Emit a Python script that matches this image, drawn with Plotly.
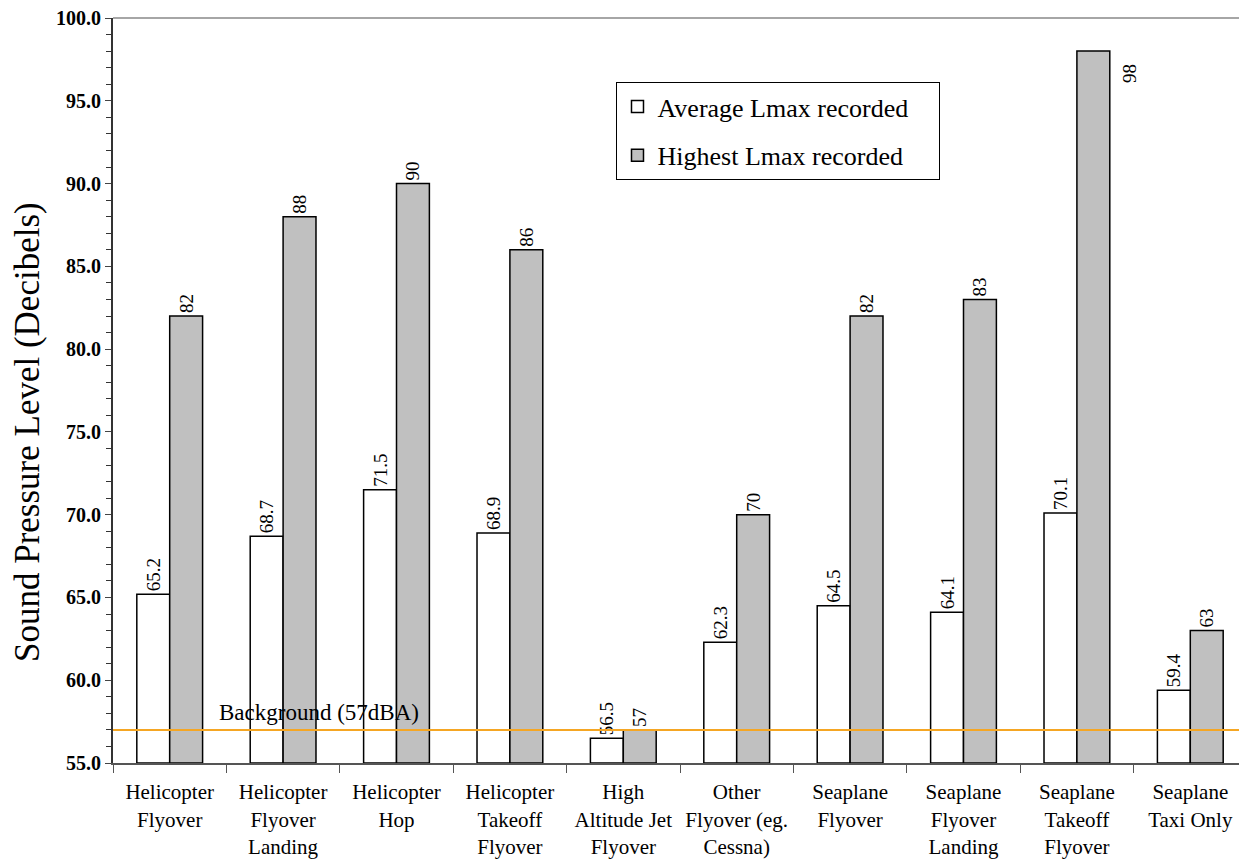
import plotly.graph_objects as go

categories = ["Helicopter<br>Flyover", "Helicopter<br>Flyover<br>Landing", "Helicopter<br>Hop",
              "Helicopter<br>Takeoff<br>Flyover", "High<br>Altitude Jet<br>Flyover",
              "Other<br>Flyover (eg.<br>Cessna)", "Seaplane<br>Flyover", "Seaplane<br>Flyover<br>Landing",
              "Seaplane<br>Takeoff<br>Flyover", "Seaplane<br>Taxi Only"]
avg_lmax = [65.2, 68.7, 71.5, 68.9, 56.5, 62.3, 64.5, 64.1, 70.1, 59.4]
high_lmax = [82, 88, 90, 86, 57, 70, 82, 83, 98, 63]
background = 57

font = "Liberation Serif"
pad = "\u00a0" * 4  # extra room on the right of the legend box

fig = go.Figure()
fig.add_trace(go.Bar(x=categories, y=[v - 55 for v in avg_lmax], base=55, name="Average Lmax recorded" + pad,
                     legendgroup="a",
                     marker=dict(color="white", line=dict(color="black", width=1.5)),
                     text=[f"{v:.1f}" for v in avg_lmax], textposition="outside", textangle=-90,
                     textfont=dict(family=font, size=19, color="black"),
                     cliponaxis=False, constraintext="none"))
fig.add_trace(go.Bar(x=categories, y=[v - 55 for v in high_lmax], base=55, name="Highest Lmax recorded" + pad,
                     legendgroup="b",
                     marker=dict(color="#C0C0C0", line=dict(color="black", width=1.5)),
                     text=[str(v) if v < 95 else "" for v in high_lmax], textposition="outside", textangle=-90,
                     textfont=dict(family=font, size=19, color="black"),
                     cliponaxis=False, constraintext="none"))

# label for the tallest bar sits beside it
fig.add_annotation(x=categories[8], y=high_lmax[8], text=str(high_lmax[8]), showarrow=False,
                   textangle=-90, xshift=52, yshift=-22, font=dict(family=font, size=19, color="black"))

fig.add_shape(type="line", xref="paper", x0=0, x1=1, y0=background, y1=background,
              line=dict(color="#F5A623", width=2))
fig.add_annotation(x=0.092, xref="paper", y=background, yanchor="bottom", xanchor="left",
                   text="Background (57dBA)", showarrow=False, yshift=3,
                   font=dict(family=font, size=23, color="black"))

# y-axis title, a bit below the middle like the original
fig.add_annotation(x=-0.076, xref="paper", y=0.444, yref="paper", text="Sound Pressure Level (Decibels)",
                   textangle=-90, showarrow=False, xanchor="center", yanchor="middle",
                   font=dict(family=font, size=35, color="black"))

# page body adds ~8px offset, so the figure is sized to fit the window
fig.update_layout(
    width=1239, height=855,
    margin=dict(l=105, r=0, t=10, b=100),
    plot_bgcolor="white", paper_bgcolor="white",
    barmode="group", bargap=0.42, bargroupgap=0,
    font=dict(family=font, color="black"),
    showlegend=True,
    legend=dict(x=0.444, y=0.914, xanchor="left", yanchor="top", bgcolor="white",
                bordercolor="black", borderwidth=1, font=dict(family=font, size=26),
                tracegroupgap=12),
    xaxis=dict(range=[-0.5, 9.5], showline=True, linecolor="#555555", linewidth=2,
               ticks="outside", tickson="boundaries", ticklen=8, tickcolor="#555555",
               ticklabelstandoff=9,
               tickangle=0, tickfont=dict(family=font, size=21), automargin=False),
    yaxis=dict(range=[55, 100], dtick=5, tickformat=".1f", showgrid=False, showline=True,
               linecolor="#333333", linewidth=2, ticks="outside", ticklen=6, automargin=False,
               ticklabeloverflow="allow",
               tickfont=dict(family=font, size=20, weight="bold"),
               minor=dict(dtick=1, ticks="outside", ticklen=5, tickcolor="#333333")),
)
fig.add_shape(type="line", xref="paper", yref="paper", x0=0, x1=1, y0=1, y1=1,
              line=dict(color="#888888", width=1.5))

fig.write_html("out.html")
